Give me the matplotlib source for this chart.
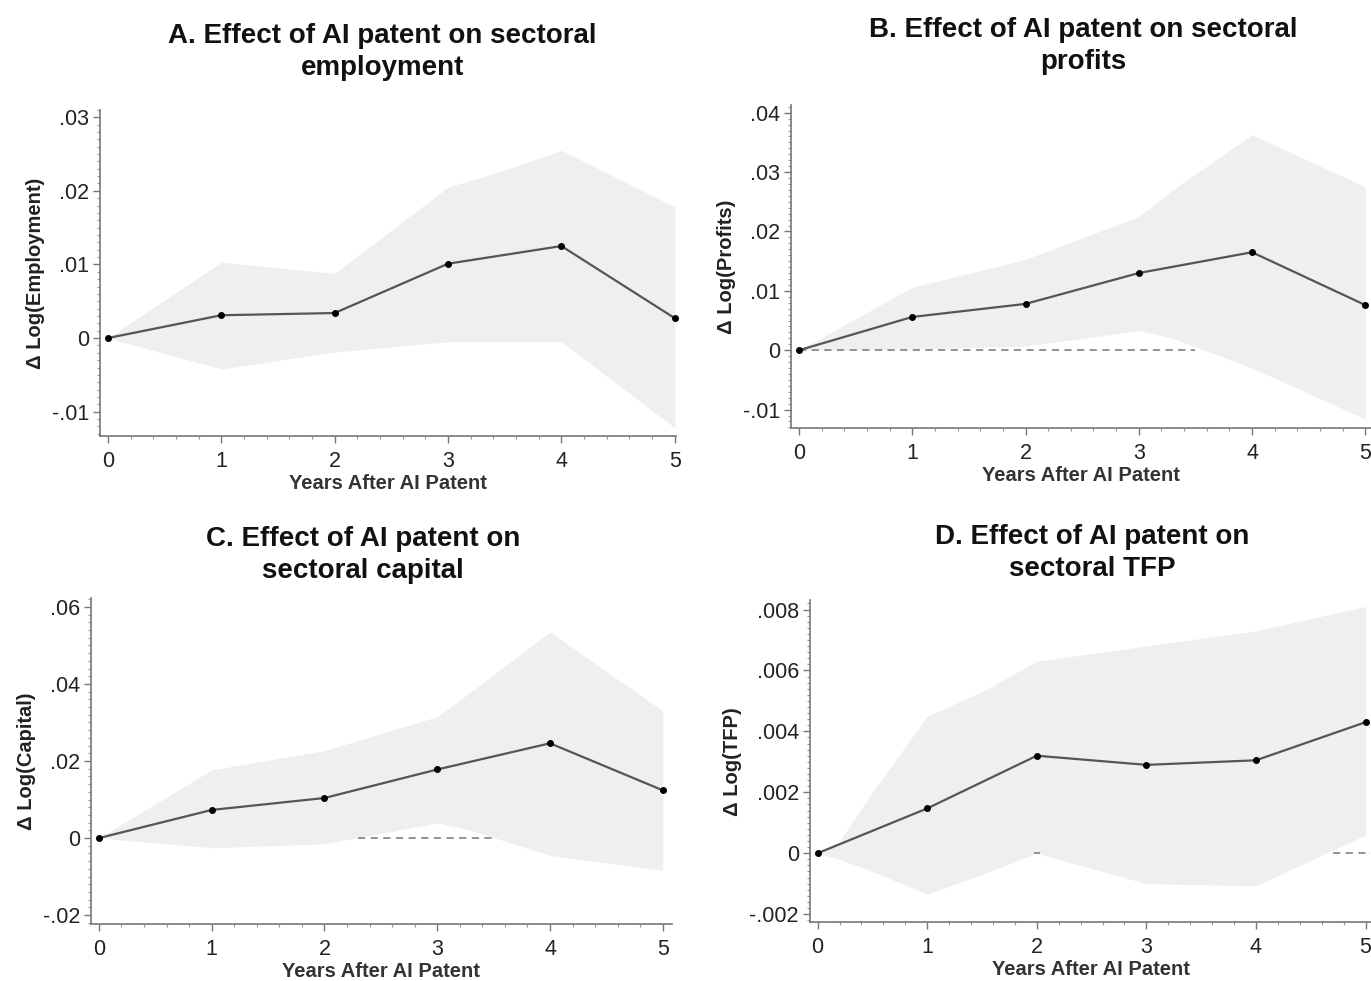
import numpy as np
import matplotlib
matplotlib.use("Agg")
import matplotlib.pyplot as plt
from matplotlib.ticker import MultipleLocator

plt.rcParams['font.family'] = ['Liberation Sans Narrow', 'Liberation Sans', 'DejaVu Sans']

years = [0, 1, 2, 3, 4, 5]

# panel A: employment
emp_coef = [0.0, 0.0031, 0.0034, 0.0101, 0.0125, 0.0027]
emp_band_x = [0, 1, 2, 3, 3.5, 4, 5]
emp_upper = [0.0, 0.0103, 0.0088, 0.0205, 0.0228, 0.0255, 0.0178]
emp_lower = [0.0, -0.0042, -0.0019, -0.0005, -0.0005, -0.0005, -0.0122]

# panel B: profits
prof_coef = [0.0, 0.0056, 0.0078, 0.0130, 0.0165, 0.0076]
prof_band_x = [0, 1, 2, 3, 3.3, 4, 5]
prof_upper = [0.0, 0.0106, 0.0153, 0.0225, 0.0270, 0.0363, 0.0275]
prof_lower = [0.0, 0.0002, 0.0007, 0.0033, 0.0020, -0.0030, -0.0116]

# panel C: capital
cap_coef = [0.0, 0.0073, 0.0104, 0.0178, 0.0246, 0.0124]
cap_band_x = [0, 1, 2, 3, 3.3, 4, 5]
cap_upper = [0.0, 0.0177, 0.0227, 0.0315, 0.0380, 0.0535, 0.0330]
cap_lower = [0.0, -0.0025, -0.0015, 0.0039, 0.0020, -0.0045, -0.0084]

# panel D: TFP
tfp_coef = [0.0, 0.00147, 0.0032, 0.0029, 0.00305, 0.0043]
tfp_band_x = [0, 0.2, 0.5, 1, 1.5, 2, 3, 4, 5]
tfp_upper = [0.0, 0.0004, 0.0020, 0.0045, 0.0053, 0.0063, 0.0068, 0.0073, 0.0081]
tfp_lower = [0.0, -0.0002, -0.0006, -0.00134, -0.0007, 0.0, -0.0010, -0.00107, 0.0006]

panels = [
    dict(title="A. Effect of AI patent on sectoral\nemployment", ylabel="\u0394 Log(Employment)",
         coef=emp_coef, bx=emp_band_x, up=emp_upper, lo=emp_lower,
         yticks=[-0.01, 0, 0.01, 0.02, 0.03], ylabels=["-.01", "0", ".01", ".02", ".03"],
         yminor=0.001, ylim=(-0.0133, 0.031), xlim=(-0.07, 5.01),
         rect=[0.0729, 0.5556, 0.4201, 0.3324], zero=[], title_xy=(0.279, 0.977)),
    dict(title="B. Effect of AI patent on sectoral\nprofits", ylabel="\u0394 Log(Profits)",
         coef=prof_coef, bx=prof_band_x, up=prof_upper, lo=prof_lower,
         yticks=[-0.01, 0, 0.01, 0.02, 0.03, 0.04], ylabels=["-.01", "0", ".01", ".02", ".03", ".04"],
         yminor=0.001, ylim=(-0.0131, 0.0413), xlim=(-0.07, 5.05),
         rect=[0.577, 0.5637, 0.423, 0.3293], zero=[(0, 3.5)], title_xy=(0.790, 0.983)),
    dict(title="C. Effect of AI patent on\nsectoral capital", ylabel="\u0394 Log(Capital)",
         coef=cap_coef, bx=cap_band_x, up=cap_upper, lo=cap_lower,
         yticks=[-0.02, 0, 0.02, 0.04, 0.06], ylabels=["-.02", "0", ".02", ".04", ".06"],
         yminor=0.002, ylim=(-0.0223, 0.0623), xlim=(-0.07, 5.08),
         rect=[0.0664, 0.0581, 0.4236, 0.3323], zero=[(2.3, 3.5)], title_xy=(0.265, 0.464)),
    dict(title="D. Effect of AI patent on\nsectoral TFP", ylabel="\u0394 Log(TFP)",
         coef=tfp_coef, bx=tfp_band_x, up=tfp_upper, lo=tfp_lower,
         yticks=[-0.002, 0, 0.002, 0.004, 0.006, 0.008],
         ylabels=["-.002", "0", ".002", ".004", ".006", ".008"],
         yminor=0.0002, ylim=(-0.00226, 0.0083), xlim=(-0.07, 5.05),
         rect=[0.5908, 0.0601, 0.4092, 0.3279], zero=[(1.97, 2.03), (4.7, 5.05)],
         title_xy=(0.797, 0.466)),
]

fig = plt.figure(figsize=(13.71, 9.81), dpi=100)

for p in panels:
    ax = fig.add_axes(p["rect"])
    ax.fill_between(p["bx"], p["lo"], p["up"], color="#efefef", lw=0, zorder=1)
    for x0, x1 in p["zero"]:
        ax.plot([x0, x1], [0, 0], ls=(0, (4, 3)), color="#8a8a8a", lw=1.3, zorder=2)
    ax.plot(years, p["coef"], color="#555555", lw=1.6, marker="o", ms=4,
            mfc="black", mec="black", zorder=3, clip_on=False)
    ax.set_xlim(*p["xlim"])
    ax.set_ylim(*p["ylim"])
    ax.set_xticks(years)
    ax.xaxis.set_minor_locator(MultipleLocator(0.2))
    ax.set_yticks(p["yticks"])
    ax.set_yticklabels(p["ylabels"])
    ax.yaxis.set_minor_locator(MultipleLocator(p["yminor"]))
    for s in ["top", "right"]:
        ax.spines[s].set_visible(False)
    for s in ["left", "bottom"]:
        ax.spines[s].set_color("#777777")
        ax.spines[s].set_linewidth(1.2)
    ax.tick_params(which="major", length=5, width=1, color="#777777",
                   labelsize=15.5, labelcolor="#222222")
    ax.tick_params(axis="x", which="major", pad=6)
    ax.tick_params(axis="y", which="major", pad=3)
    ax.tick_params(which="minor", length=2.5, width=0.8, color="#999999")
    ax.set_xlabel("Years After AI Patent", fontsize=14.5, fontweight="bold",
                  color="#333333", labelpad=1)
    ax.set_ylabel(p["ylabel"], fontsize=14.5, fontweight="bold", color="#222222", labelpad=5)
    fig.text(p["title_xy"][0], p["title_xy"][1], p["title"], ha="center", va="top",
             fontsize=20, fontweight="bold", family=["Liberation Sans", "DejaVu Sans"],
             linespacing=1.3, color="#111111")

fig.savefig("out.png", dpi=100, facecolor="white")
